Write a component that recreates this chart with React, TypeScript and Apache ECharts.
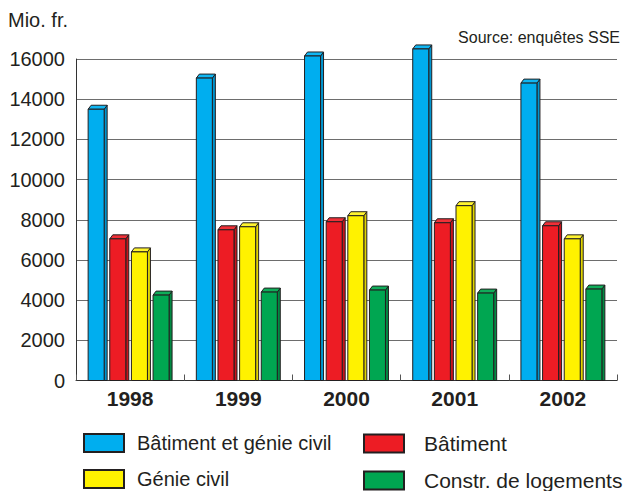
import React, { useEffect, useRef } from "react";
import * as echarts from "echarts";

const years = ["1998", "1999", "2000", "2001", "2002"];
const seriesNames = ["Bâtiment et génie civil", "Bâtiment", "Génie civil", "Constr. de logements"];
const batimentGenieCivil = [13500, 15050, 16150, 16500, 14800];
const batiment = [7050, 7500, 7900, 7850, 7700];
const genieCivil = [6400, 7650, 8200, 8700, 7050];
const constrLogements = [4250, 4400, 4500, 4350, 4550];
const yTicks = { min: 0, max: 16000, interval: 2000 };

const fronts = ["#00aeef", "#ed1c24", "#fff200", "#00a651"];
const sides = ["#0095cf", "#c8151c", "#e0d400", "#008a43"];
const tops = ["#10b6f2", "#f03038", "#fff430", "#10ad5a"];
const outline = "#231f20";
const FONT = "Liberation Sans, Arial, Helvetica, sans-serif";

export default function App() {
  const ref = useRef<HTMLDivElement>(null);
  useEffect(() => {
    if (!ref.current) return;
    const chart = echarts.init(ref.current, null, { renderer: "svg" });
    const allData = [batimentGenieCivil, batiment, genieCivil, constrLogements];
    const series = allData.map((vals, si) => ({
      type: "custom",
      name: seriesNames[si],
      itemStyle: { color: fronts[si], borderColor: outline, borderWidth: 1 },
      encode: { x: 0, y: 1 },
      data: vals.map((v, i) => [i, v]),
      renderItem: (params: any, api: any) => {
        const xi = api.value(0);
        const v = api.value(1);
        const top = api.coord([xi, v]);
        const base = api.coord([xi, 0]);
        const bw = api.size([1, 0])[0];
        const pitch = bw * 0.2;
        const w = bw * 0.148;
        const dx = 3;
        const dy = 4;
        const cx = top[0] + (si - 1.5) * pitch - 1.5;
        const x0 = cx - w / 2;
        const x1 = cx + w / 2;
        const yT = top[1];
        const yB = base[1];
        const st = { stroke: outline, lineWidth: 1 };
        return {
          type: "group",
          children: [
            {
              type: "polygon",
              shape: { points: [[x1, yT], [x1 + dx, yT - dy], [x1 + dx, yB], [x1, yB]] },
              style: { fill: sides[si], ...st },
            },
            {
              type: "polygon",
              shape: { points: [[x0, yT], [x0 + dx, yT - dy], [x1 + dx, yT - dy], [x1, yT]] },
              style: { fill: tops[si], ...st },
            },
            {
              type: "rect",
              shape: { x: x0, y: yT, width: w, height: yB - yT },
              style: { fill: fronts[si], ...st },
            },
          ],
        };
      },
    }));

    const legendCommon = {
      orient: "vertical",
      icon: "rect",
      itemWidth: 40,
      itemHeight: 18,
      itemGap: 16,
      padding: 0,
      height: 80,
    };

    chart.setOption({
      animation: false,
      grid: { left: 76, right: 16, top: 59, bottom: 110.5, containLabel: false },
      legend: [
        {
          ...legendCommon,
          left: 83,
          top: 433,
          data: [seriesNames[0], seriesNames[2]],
          textStyle: { fontFamily: FONT, fontSize: 20, lineHeight: 20, color: outline, padding: [0, 0, 0, 8] },
        },
        {
          ...legendCommon,
          left: 363,
          top: 433,
          data: [seriesNames[1], seriesNames[3]],
          textStyle: { fontFamily: FONT, fontSize: 21, lineHeight: 20, color: outline, padding: [0, 0, 0, 15] },
        },
      ],
      xAxis: {
        type: "category",
        data: years,
        boundaryGap: true,
        axisLine: { show: true, lineStyle: { color: "#333", width: 1 } },
        axisTick: { show: true, inside: true, length: 6, alignWithLabel: false, lineStyle: { color: "#555" } },
        axisLabel: { fontFamily: FONT, fontSize: 21, fontWeight: "bold", color: outline, margin: 7 },
      },
      yAxis: {
        type: "value",
        min: yTicks.min,
        max: yTicks.max,
        interval: yTicks.interval,
        axisLine: { show: true, lineStyle: { color: "#333", width: 1 } },
        axisTick: { show: false },
        axisLabel: {
          fontFamily: FONT,
          fontSize: 20,
          color: outline,
          margin: 11,
          formatter: (v: number) => String(v),
        },
        splitLine: { show: true, lineStyle: { color: "#6d6d6d", width: 1 } },
      },
      graphic: [
        {
          type: "text",
          left: 8,
          top: 10,
          style: { text: "Mio. fr.", fontFamily: FONT, fontSize: 20, fill: outline },
        },
        {
          type: "text",
          right: 13,
          top: 29,
          style: { text: "Source: enquêtes SSE", fontFamily: FONT, fontSize: 16, fill: outline },
        },
      ],
      series,
    });
    return () => chart.dispose();
  }, []);
  return (
    <div
      ref={ref}
      style={{ position: "fixed", left: 0, top: 0, width: 633, height: 491, background: "#fff" }}
    />
  );
}
